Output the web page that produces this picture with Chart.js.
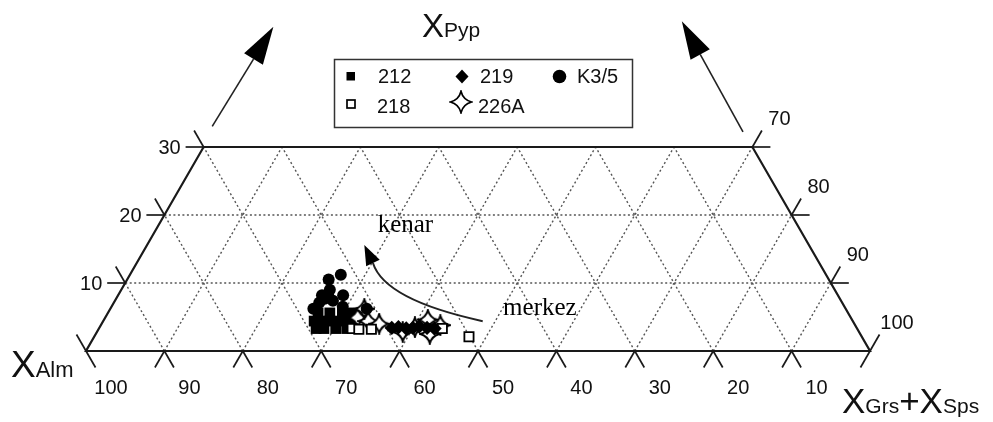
<!DOCTYPE html>
<html>
<head>
<meta charset="utf-8">
<script src="https://cdn.jsdelivr.net/npm/chart.js@4.4.1/dist/chart.umd.min.js"></script>
<style>
  html, body { margin: 0; padding: 0; background: #fff; }
  #wrap { width: 993px; height: 422px; }
</style>
</head>
<body>
<div id="wrap"><canvas id="granatChart" width="993" height="422"></canvas></div>
<script>
const alm212 = [69.0, 68.0, 66.5, 65.1, 68.7, 67.7, 66.7, 65.4, 64.1, 67.6, 66.1, 64.5, 63.3];
const pyp212 = [3.3, 3.3, 3.3, 3.3, 4.4, 4.4, 4.4, 4.4, 4.4, 5.6, 5.6, 5.6, 5.6];

const alm218 = [64.4, 63.6, 62.0, 52.9, 50.1];
const pyp218 = [3.3, 3.2, 3.2, 3.3, 2.1];

const alm219 = [59.3, 58.4, 57.5, 56.6, 55.7, 54.8, 53.9];
const pyp219 = [3.4, 3.5, 3.3, 3.4, 3.6, 3.4, 3.3];

const almK35 = [61.9, 63.8, 65.8, 65.0, 63.1, 64.8, 65.7, 67.9, 64.0, 64.4, 66.7, 61.1];
const pypK35 = [11.2, 10.5, 8.2, 8.2, 8.2, 7.4, 7.7, 6.2, 6.5, 9.0, 7.1, 6.2];

const alm226A = [62.9, 61.8, 60.6, 61.4, 58.2, 56.3, 54.1, 54.9, 52.9];
const pyp226A = [4.9, 4.4, 4.0, 6.2, 2.8, 3.5, 4.6, 2.5, 3.8];

// rótulos dos eixos
const ticksAlm = [100, 90, 80, 70, 60, 50, 40, 30, 20, 10];
const ticksPyp = [10, 20, 30];
const ticksGrsSps = [70, 80, 90, 100];
const pypMax = 30;

// anotações (coordenadas cartesianas do triângulo)
const setaEsq = { de: [16.1, 28.6], ate: [23.9, 41.3] };
const setaDir = { de: [83.8, 27.9], ate: [76.0, 42.0] };
const setaCurva = { de: [50.6, 3.8], ctrl: [38.1, 6.5], ate: [36.6, 11.2], ponta: [35.5, 13.5] };
const textoKenar = { txt: 'kenar', pos: [37.2, 15.2] };
const textoMerkez = { txt: 'merkez', pos: [53.2, 4.6] };

// =================== CONVERSÃO TERNÁRIA ===================
const SQ3 = Math.sqrt(3) / 2;
function ternParaXY(alm, pyp) {
    const gs = 100 - alm - pyp;
    return { x: gs + pyp / 2, y: pyp * SQ3 };
}
function serie(alm, pyp) {
    return alm.map((a, i) => ternParaXY(a, pyp[i]));
}

// estrela de 4 pontas (226A)
function criarEstrela(tam, esp) {
    const c = document.createElement('canvas');
    c.width = tam; c.height = tam;
    const g = c.getContext('2d');
    const m = tam / 2, r = tam / 2 - 1.4, k = tam * 0.09;
    g.beginPath();
    g.moveTo(m, m - r);
    g.quadraticCurveTo(m + k, m - k, m + r, m);
    g.quadraticCurveTo(m + k, m + k, m, m + r);
    g.quadraticCurveTo(m - k, m + k, m - r, m);
    g.quadraticCurveTo(m - k, m - k, m, m - r);
    g.closePath();
    g.fillStyle = '#fff';
    g.fill();
    g.lineWidth = esp;
    g.strokeStyle = '#000';
    g.stroke();
    return c;
}
const estrela = criarEstrela(22, 2);
const estrelaLegenda = criarEstrela(24, 1.8);

const FONTE = '"Liberation Sans", Arial, Helvetica, sans-serif';
const FONTE_SERIF = '"Liberation Serif", "Times New Roman", serif';

// =================== PLUGIN DO DIAGRAMA ===================
const diagramaTernario = {
    id: 'diagramaTernario',
    beforeDatasetsDraw(chart) {
        const ctx = chart.ctx;
        const sx = chart.scales.x, sy = chart.scales.y;
        const P = (alm, pyp) => {
            const c = ternParaXY(alm, pyp);
            return [sx.getPixelForValue(c.x), sy.getPixelForValue(c.y)];
        };
        const linha = (a, b) => {
            ctx.beginPath(); ctx.moveTo(a[0], a[1]); ctx.lineTo(b[0], b[1]); ctx.stroke();
        };
        ctx.save();

        // grade pontilhada
        ctx.strokeStyle = '#555';
        ctx.lineWidth = 1.4;
        ctx.setLineDash([2, 2.5]);
        [10, 20].forEach(p => linha(P(100 - p, p), P(0, p)));
        for (let a = 10; a <= 90; a += 10) {
            const topo = Math.min(pypMax, 100 - a);
            linha(P(a, 0), P(a, topo));
        }
        for (let g = 10; g <= 90; g += 10) {
            const topo = Math.min(pypMax, 100 - g);
            linha(P(100 - g, 0), P(100 - g - topo, topo));
        }

        // contorno
        ctx.setLineDash([]);
        ctx.strokeStyle = '#1a1a1a';
        ctx.lineWidth = 2.2;
        ctx.beginPath();
        const c0 = P(100, 0), c1 = P(0, 0), c2 = P(0, pypMax), c3 = P(100 - pypMax, pypMax);
        ctx.moveTo(c0[0], c0[1]); ctx.lineTo(c1[0], c1[1]); ctx.lineTo(c2[0], c2[1]);
        ctx.lineTo(c3[0], c3[1]); ctx.closePath();
        ctx.stroke();

        // marcas de escala
        ctx.lineWidth = 1.7;
        const L = 19;
        const dir = { ce: [-0.5, -SQ3], bd: [0.5, SQ3], be: [-0.5, SQ3], cd: [0.5, -SQ3] };
        const seg = (p, d, len) => linha(p, [p[0] + d[0] * len, p[1] + d[1] * len]);
        ticksAlm.forEach(a => {
            const p = P(a, 0);
            if (a === 100) { seg(p, dir.ce, L); seg(p, dir.bd, L); }
            else { seg(p, dir.be, L); seg(p, dir.bd, L); }
        });
        ticksPyp.forEach(pp => {
            const p = P(100 - pp, pp);
            seg(p, [-1, 0], 18); seg(p, dir.ce, L);
        });
        ticksGrsSps.forEach(g => {
            const p = P(0, 100 - g);
            if (g === 100) { seg(p, dir.cd, L); seg(p, dir.be, L); }
            else { seg(p, [1, 0], 18); seg(p, dir.cd, L); }
        });
        ctx.restore();
    },

    afterDraw(chart) {
        const ctx = chart.ctx;
        const sx = chart.scales.x, sy = chart.scales.y;
        const P = (alm, pyp) => {
            const c = ternParaXY(alm, pyp);
            return [sx.getPixelForValue(c.x), sy.getPixelForValue(c.y)];
        };
        const Q = v => [sx.getPixelForValue(v[0]), sy.getPixelForValue(v[1])];
        ctx.save();
        ctx.fillStyle = '#111';

        // rótulos numéricos
        ctx.font = '20px ' + FONTE;
        ctx.textAlign = 'center';
        ctx.textBaseline = 'middle';
        ticksAlm.forEach(a => { const p = P(a, 0); ctx.fillText(a, p[0] + 25, p[1] + 37); });
        ticksPyp.forEach(pp => { const p = P(100 - pp, pp); ctx.fillText(pp, p[0] - 34, p[1] + 1); });
        ticksGrsSps.forEach(g => { const p = P(0, 100 - g); ctx.fillText(g, p[0] + 27, p[1] - 28); });

        // títulos dos vértices
        ctx.textAlign = 'left';
        ctx.textBaseline = 'alphabetic';
        const titulo = (x, y, partes) => {
            partes.forEach(([t, tam]) => {
                ctx.font = tam + 'px ' + FONTE;
                ctx.fillText(t, x, y);
                x += ctx.measureText(t).width;
            });
        };
        titulo(11, 377, [['X', 37], ['Alm', 22]]);
        titulo(422, 37, [['X', 33], ['Pyp', 21]]);
        titulo(842, 413, [['X', 35], ['Grs', 21], ['+', 35], ['X', 35], ['Sps', 21]]);

        // setas retas
        ctx.strokeStyle = '#222';
        ctx.lineWidth = 1.6;
        const seta = (de, ate, comp, larg) => {
            const dx = ate[0] - de[0], dy = ate[1] - de[1];
            const n = Math.hypot(dx, dy), ux = dx / n, uy = dy / n;
            const bx = ate[0] - ux * comp, by = ate[1] - uy * comp;
            ctx.beginPath(); ctx.moveTo(de[0], de[1]); ctx.lineTo(bx, by); ctx.stroke();
            ctx.beginPath();
            ctx.moveTo(ate[0], ate[1]);
            ctx.lineTo(bx - uy * larg, by + ux * larg);
            ctx.lineTo(bx + uy * larg, by - ux * larg);
            ctx.closePath(); ctx.fill();
        };
        ctx.fillStyle = '#000';
        seta(Q(setaEsq.de), Q(setaEsq.ate), 38, 11);
        seta(Q(setaDir.de), Q(setaDir.ate), 38, 11);

        // seta curva (kenar <- merkez)
        const s0 = Q(setaCurva.de), sc = Q(setaCurva.ctrl), s1 = Q(setaCurva.ate), sp = Q(setaCurva.ponta);
        ctx.lineWidth = 2;
        ctx.beginPath(); ctx.moveTo(s0[0], s0[1]); ctx.quadraticCurveTo(sc[0], sc[1], s1[0], s1[1]); ctx.stroke();
        seta(s1, sp, Math.hypot(sp[0] - s1[0], sp[1] - s1[1]), 7.5);

        // textos
        ctx.font = '25px ' + FONTE_SERIF;
        ctx.fillStyle = '#000';
        let t = Q(textoKenar.pos); ctx.fillText(textoKenar.txt, t[0], t[1]);
        t = Q(textoMerkez.pos); ctx.fillText(textoMerkez.txt, t[0], t[1]);

        // legenda
        ctx.strokeStyle = '#333';
        ctx.lineWidth = 1.5;
        ctx.strokeRect(334.5, 59.5, 298, 68);
        ctx.fillStyle = '#000';
        ctx.fillRect(346.5, 72, 8.5, 8.5);
        ctx.beginPath(); ctx.moveTo(462, 69.5); ctx.lineTo(468.5, 76.5); ctx.lineTo(462, 83.5); ctx.lineTo(455.5, 76.5); ctx.closePath(); ctx.fill();
        ctx.beginPath(); ctx.arc(559.5, 76.5, 6.8, 0, Math.PI * 2); ctx.fill();
        ctx.strokeStyle = '#000';
        ctx.lineWidth = 1.7;
        ctx.strokeRect(347, 100, 8, 8);
        ctx.drawImage(estrelaLegenda, 461 - 12, 102 - 12);
        ctx.font = '20px ' + FONTE;
        ctx.fillStyle = '#111';
        ctx.fillText('212', 378, 83);
        ctx.fillText('219', 480, 83);
        ctx.fillText('K3/5', 577, 83);
        ctx.fillText('218', 377, 113);
        ctx.fillText('226A', 478, 113);
        ctx.restore();
    }
};

// =================== GRÁFICO ===================
const ctxGranada = document.getElementById('granatChart');
new Chart(ctxGranada, {
    type: 'scatter',
    data: {
        datasets: [
            { label: 'K3/5', data: serie(almK35, pypK35), pointStyle: 'circle', pointRadius: 6,
              backgroundColor: '#000', borderColor: '#000', borderWidth: 0 },
            { label: '219', data: serie(alm219, pyp219), pointStyle: 'rectRot', pointRadius: 7.2,
              backgroundColor: '#000', borderColor: '#000', borderWidth: 0 },
            { label: '218', data: serie(alm218, pyp218), pointStyle: 'rect', pointRadius: 6.5,
              backgroundColor: '#fff', borderColor: '#000', borderWidth: 1.8 },
            { label: '226A', data: serie(alm226A, pyp226A), pointStyle: estrela, pointRadius: 11 },
            { label: '212', data: serie(alm212, pyp212), pointStyle: 'rect', pointRadius: 7.6,
              backgroundColor: '#000', borderColor: '#000', borderWidth: 0 }
        ]
    },
    options: {
        responsive: false,
        devicePixelRatio: 1,
        animation: false,
        clip: false,
        layout: { padding: { left: 86, right: 123, top: 147, bottom: 71 } },
        scales: {
            x: { type: 'linear', min: 0, max: 100, display: false },
            y: { type: 'linear', min: 0, max: pypMax * SQ3, display: false }
        },
        plugins: {
            legend: { display: false },
            tooltip: { enabled: false }
        }
    },
    plugins: [diagramaTernario]
});
</script>
</body>
</html>
